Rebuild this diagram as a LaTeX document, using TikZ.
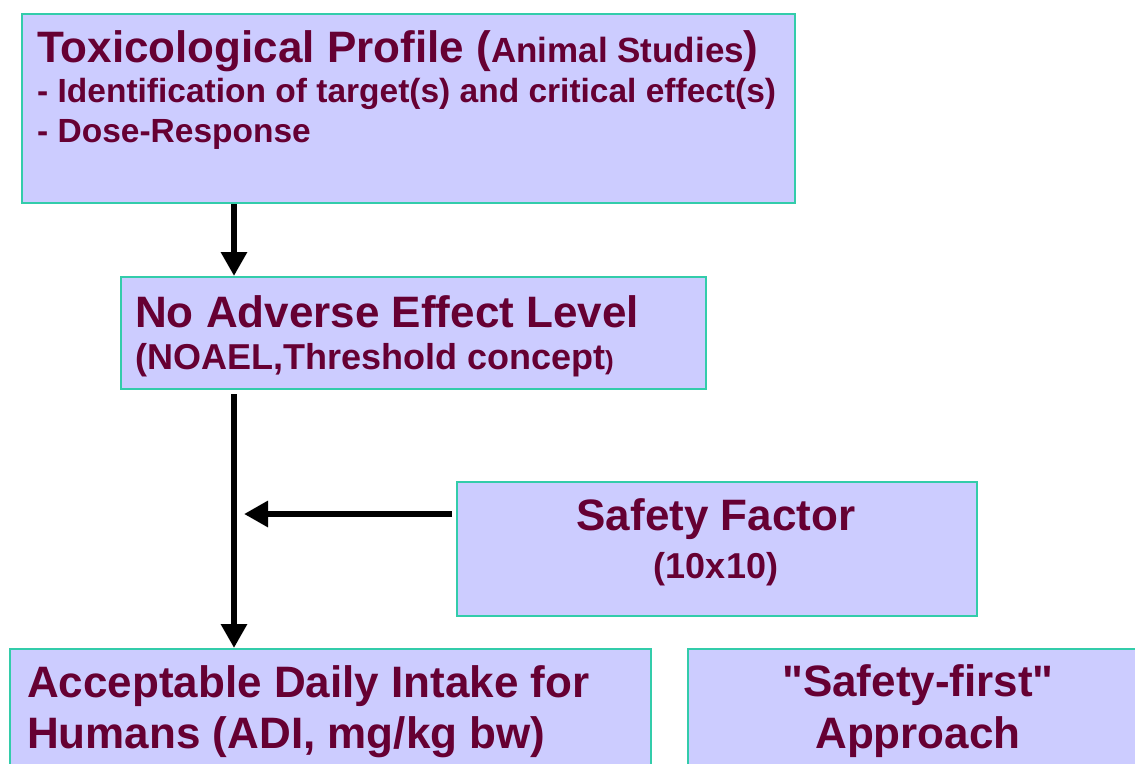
\documentclass[tikz,border=0pt]{standalone}
\usepackage{fontspec}
\setmainfont{Liberation Sans}
\newfontfamily\qfont{Liberation Sans}
\usetikzlibrary{arrows.meta}
\definecolor{boxfill}{HTML}{CCCCFF}
\definecolor{boxline}{HTML}{33CCAA}
\definecolor{txt}{HTML}{660033}
\tikzset{
  box/.style={draw=boxline, fill=boxfill, line width=2pt, rectangle, inner sep=0pt, anchor=north west},
  lbl/.style={text=txt, font=\bfseries, inner sep=0pt},
  arr/.style={line width=6pt, -{Triangle[length=24pt,width=25pt]}},
}
\newcommand{\fs}[1]{\fontsize{#1}{#1}\selectfont}
\newcommand{\sq}{{\qfont\bfseries"}}
\begin{document}
\begin{tikzpicture}[x=1pt,y=-1pt]
\clip (0,0) rectangle (1135,763);
\fill[white] (0,0) rectangle (1135,763);
% boxes
\node[box, minimum width=773pt, minimum height=189pt] (top) at (21,13) {};
\node[box, minimum width=585pt, minimum height=112pt] (noael) at (120,276) {};
\node[box, minimum width=520pt, minimum height=134pt] (sf) at (456,481) {};
\node[box, minimum width=641pt, minimum height=130pt] (adi) at (9,648) {};
\node[box, minimum width=463pt, minimum height=130pt] (sfirst) at (687,648) {};
% texts
\node[lbl, anchor=base west] (t1) at (37,62) {\fs{44}Toxicological Profile (\fs{35}Animal Studies\fs{44})};
\node[lbl, anchor=base west] (t2) at (37,102) {\fs{33.5}- Identification of target(s) and critical effect(s)};
\node[lbl, anchor=base west] (t3) at (37,142) {\fs{33.5}- Dose-Response};
\node[lbl, anchor=base west] (n1) at (135,327) {\fs{44}No Adverse Effect Level};
\node[lbl, anchor=base west] (n2) at (135,369) {\fs{36}(NOAEL,Threshold concept\fs{26})};
\node[lbl, anchor=base] (s1) at (716,530) {\fs{44}Safety Factor};
\node[lbl, anchor=base] (s2) at (716,578) {\fs{36}(10x10)};
\node[lbl, anchor=base west] (a1) at (27,697) {\fs{44}Acceptable Daily Intake for};
\node[lbl, anchor=base west] (a2) at (27,748) {\fs{44}Humans (ADI, mg/kg bw)};
\node[lbl, anchor=base] (f1) at (918,696) {\fs{44}\sq Safety-first\sq};
\node[lbl, anchor=base] (f2) at (918,748) {\fs{44}Approach};
% connectors
\coordinate (ax) at (234,0);
\coordinate (hend) at (244,514);
\draw[arr] (ax |- top.south) -- (ax |- noael.north);
\draw[arr] ([yshift=-4pt]ax |- noael.south) -- (ax |- adi.north);
\draw[arr] ([xshift=-4pt]sf.west |- hend) -- (hend);
\end{tikzpicture}
\end{document}
